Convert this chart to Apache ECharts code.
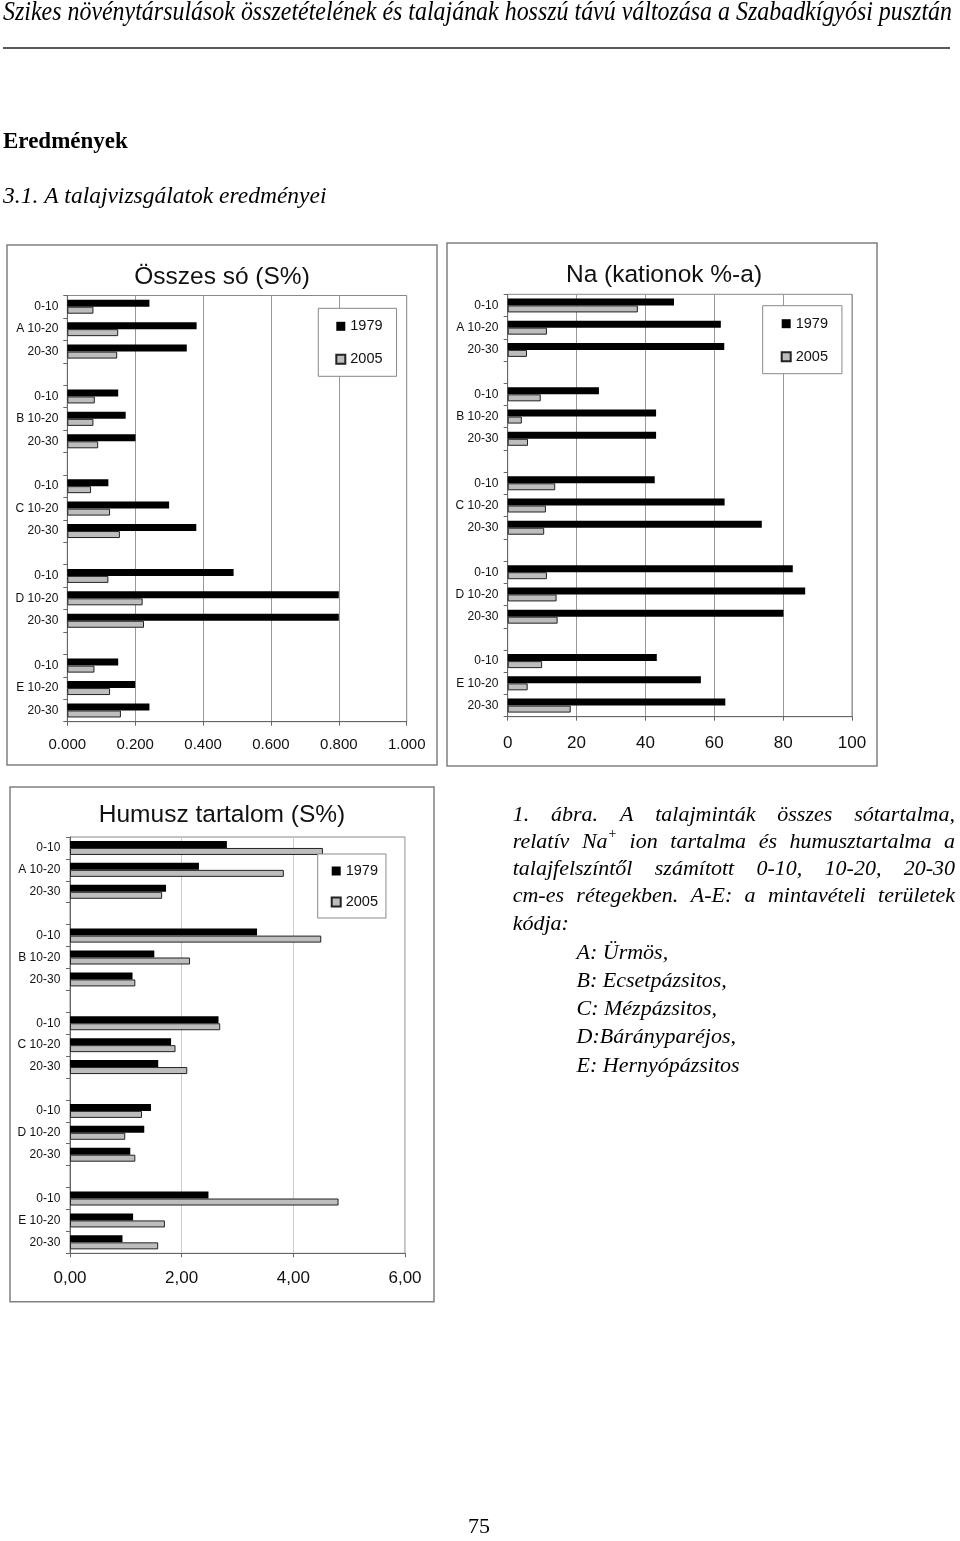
<!DOCTYPE html>
<html><head><meta charset="utf-8">
<script src="https://cdn.jsdelivr.net/npm/echarts@6/dist/echarts.min.js"></script>
<style>html,body{margin:0;padding:0;background:#fff}#c{width:960px;height:1541px}</style>
</head><body><div id="c"></div>
<script>
// ---- data ----
const sites = ['A','B','C','D','E'];
const depths = ['0-10','10-20','20-30'];
const years = ['1979','2005'];
// Összes só (S%)
const salt1979 = [0.242,0.381,0.352, 0.150,0.172,0.201, 0.121,0.300,0.380, 0.490,0.800,0.800, 0.150,0.200,0.242];
const salt2005 = [0.077,0.150,0.147, 0.081,0.077,0.091, 0.070,0.126,0.155, 0.121,0.222,0.226, 0.080,0.126,0.158];
// Na (kationok %-a)
const na1979 = [48.3,61.9,62.9, 26.5,43.1,43.1, 42.7,63.0,73.8, 82.8,86.4,80.1, 43.3,56.1,63.2];
const na2005 = [37.8,11.4,5.6, 9.6,4.1,5.9, 13.8,11.1,10.6, 11.4,14.2,14.5, 10.0,5.8,18.3];
// Humusz tartalom (S%)
const hum1979 = [2.81,2.31,1.72, 3.35,1.51,1.12, 2.66,1.81,1.58, 1.45,1.33,1.08, 2.48,1.13,0.94];
const hum2005 = [4.53,3.83,1.65, 4.50,2.15,1.17, 2.69,1.89,2.10, 1.29,0.99,1.17, 4.81,1.70,1.58];
// tick labels
const saltTicks = ['0.000','0.200','0.400','0.600','0.800','1.000'];
const naTicks = ['0','20','40','60','80','100'];
const humTicks = ['0,00','2,00','4,00','6,00'];
const titles = ['Összes só (S%)','Na (kationok %-a)','Humusz tartalom (S%)'];

// ---- build categories (with blank gap rows between sites) ----
const catKeys = [], catLabels = {};
sites.forEach((s,i)=>{
  depths.forEach((d,j)=>{ const k=s+'|'+d; catKeys.push(k); catLabels[k] = j===1 ? s+' '+d : d; });
  if(i<sites.length-1){ const k='gap'+i; catKeys.push(k); catLabels[k]=''; }
});
function expand(arr){
  const out=[];
  sites.forEach((s,i)=>{ for(let j=0;j<3;j++) out.push(arr[i*3+j]); if(i<sites.length-1) out.push('-'); });
  return out;
}

const SANS = 'Liberation Sans, Arial, sans-serif';
const SERIF = 'Liberation Serif, Times New Roman, serif';
const TXT = '#111';

const grids = [
  {left:67.3, top:295.5, width:339.4, height:426.2, show:true, borderColor:'#888', borderWidth:1, backgroundColor:'transparent', outerBoundsMode:'none', containLabel:false},
  {left:507.7, top:294.3, width:344.3, height:422.4, show:true, borderColor:'#888', borderWidth:1, backgroundColor:'transparent', outerBoundsMode:'none', containLabel:false},
  {left:70, top:837, width:335, height:416.3, show:true, borderColor:'#888', borderWidth:1, backgroundColor:'transparent', outerBoundsMode:'none', containLabel:false}
];

function xAxis(gi, max, interval, ticks, fs, margin, splitColor){
  return {gridIndex:gi, type:'value', min:0, max:max, interval:interval,
    axisLine:{show:true, lineStyle:{color:'#666', width:1}},
    axisTick:{show:true, length:4, inside:false, lineStyle:{color:'#666'}},
    splitLine:{show:true, lineStyle:{color:splitColor, width:1}},
    axisLabel:{show:true, formatter:v=>ticks[Math.round(v/interval)], fontSize:fs, margin:margin, color:TXT, fontFamily:SANS, showMinLabel:true, showMaxLabel:true, hideOverlap:false}
  };
}
function yAxis(gi, margin){
  return {gridIndex:gi, type:'category', inverse:true, data:catKeys,
    axisLine:{show:true, lineStyle:{color:'#666', width:1}},
    axisTick:{show:true, interval:0, length:4, alignWithLabel:false, lineStyle:{color:'#666'}},
    splitLine:{show:false},
    axisLabel:{show:true, interval:0, formatter:k=>catLabels[k], fontSize:12, margin:margin, color:TXT, fontFamily:SANS}
  };
}
function barPair(gi, d79, d05){
  return [
    {type:'bar', name:years[0], xAxisIndex:gi, yAxisIndex:gi, data:expand(d79), barWidth:7, barGap:'0%',
      itemStyle:{color:'#000', borderWidth:0}, silent:true, animation:false},
    {type:'bar', name:years[1], xAxisIndex:gi, yAxisIndex:gi, data:expand(d05), barWidth:7, barGap:'0%',
      itemStyle:{color:'#bdbdbd', borderColor:'#222', borderWidth:1}, silent:true, animation:false}
  ];
}
function legend(left, top, gap, padding){
  return {show:true, orient:'vertical', left:left, top:top, data:years, icon:'rect', itemWidth:9, itemHeight:9,
    itemGap:gap, padding:padding, borderColor:'#888', borderWidth:1, backgroundColor:'#fff', selectedMode:false,
    textStyle:{fontSize:14.5, lineHeight:16, color:TXT, fontFamily:SANS}};
}

// ---- text helpers ----
const mctx = document.createElement('canvas').getContext('2d');
function tw(font, s){ mctx.font = font; return mctx.measureText(s).width; }
const graphics = [];
function txt(x, y, s, size, opts){
  opts = opts || {};
  graphics.push({type:'text', x:x, y:y, scaleX:opts.scaleX||1, silent:true,
    style:{text:s, fontSize:size, fontFamily:opts.family||SERIF, fontStyle:opts.italic?'italic':'normal',
      fontWeight:opts.bold?'bold':'normal', fill:opts.color||'#000', align:opts.align||'left', verticalAlign:'middle'}});
}
// header
const headFont = 'italic 27px Liberation Serif';
const headStr = 'Szikes növénytársulások összetételének és talajának hosszú távú változása a Szabadkígyósi pusztán';
txt(3, 13, headStr, 27, {italic:true, scaleX: 949 / tw(headFont, headStr)});
graphics.push({type:'line', silent:true, shape:{x1:3, y1:48, x2:950, y2:48}, style:{stroke:'#222', lineWidth:1.5}});
txt(3, 142, 'Eredmények', 23, {bold:true});
txt(3, 197, '3.1. A talajvizsgálatok eredményei', 23.5, {italic:true});
txt(479, 1527, '75', 22, {align:'center'});

// caption
const CF = 22, cfont = 'italic 22px Liberation Serif', supFont = 'italic 14px Liberation Serif';
function justify(words, x0, x1, y){
  const widths = words.map(w => typeof w === 'string' ? tw(cfont, w) : tw(cfont, w.t) + tw(supFont, w.sup));
  const sum = widths.reduce((a,b)=>a+b, 0);
  const gap = (x1 - x0 - sum) / (words.length - 1);
  let x = x0;
  words.forEach((w,i)=>{
    if(typeof w === 'string'){ txt(x, y, w, CF, {italic:true}); }
    else {
      txt(x, y, w.t, CF, {italic:true});
      txt(x + tw(cfont, w.t), y - 8, w.sup, 14, {italic:true});
    }
    x += widths[i] + gap;
  });
}
const capX0 = 512.7, capX1 = 955;
justify('1. ábra. A talajminták összes sótartalma,'.split(' '), capX0, capX1, 815);
justify(['relatív', {t:'Na', sup:'+'}, 'ion', 'tartalma', 'és', 'humusztartalma', 'a'], capX0, capX1, 842);
justify('talajfelszíntől számított 0-10, 10-20, 20-30'.split(' '), capX0, capX1, 869);
justify('cm-es rétegekben. A-E: a mintavételi területek'.split(' '), capX0, capX1, 896.5);
txt(capX0, 924, 'kódja:', CF, {italic:true});
const codeItems = ['A: Ürmös,', 'B: Ecsetpázsitos,', 'C: Mézpázsitos,', 'D:Bárányparéjos,', 'E: Hernyópázsitos'];
codeItems.forEach((s,i)=> txt(576.5, 953 + i*28.2, s, CF, {italic:true}));

// chart boxes and titles
[[7,245,430,520],[447,243,430,523],[10,787,424,514.7]].forEach(b=>{
  graphics.push({type:'rect', silent:true, z:-10, shape:{x:b[0], y:b[1], width:b[2], height:b[3]}, style:{fill:'none', stroke:'#808080', lineWidth:1.5}});
});
[[222,277],[664,275],[222,815]].forEach((p,i)=> txt(p[0], p[1], titles[i], 24.5, {family:SANS, align:'center', color:TXT}));

const chart = echarts.init(document.getElementById('c'), null, {renderer:'canvas'});
chart.setOption({
  animation:false,
  backgroundColor:'#fff',
  grid: grids,
  xAxis: [xAxis(0, 1, 0.2, saltTicks, 15, 16, '#999'), xAxis(1, 100, 20, naTicks, 17, 18, '#999'), xAxis(2, 6, 2, humTicks, 17, 17, '#ccc')],
  yAxis: [yAxis(0, 9), yAxis(1, 9.4), yAxis(2, 9.7)],
  legend: [legend(318.3, 308.3, 17, [10,14,9,17]), legend(762.7, 305.7, 17, [10,14,9,18]), legend(317.7, 854, 15, [9,8,8,13])],
  series: [].concat(barPair(0, salt1979, salt2005), barPair(1, na1979, na2005), barPair(2, hum1979, hum2005)),
  graphic: graphics
});
</script></body></html>
